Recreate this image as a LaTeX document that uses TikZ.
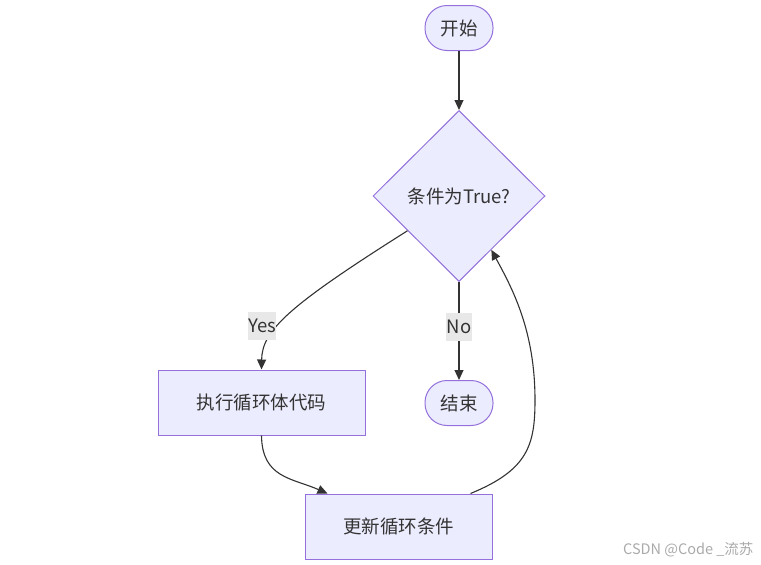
\documentclass[tikz,border=0pt]{standalone}
\usepackage{fontspec}
\setmainfont{Noto Sans CJK SC}
\usetikzlibrary{shapes.geometric,arrows.meta}
\definecolor{nodefill}{HTML}{ECECFF}
\definecolor{nodeline}{HTML}{9370DB}
\definecolor{edgeline}{HTML}{333333}
\definecolor{labelbg}{HTML}{E8E8E8}
\definecolor{txt}{HTML}{333333}
\definecolor{wmark}{HTML}{AAAAAA}
\tikzset{
  base/.style={draw=nodeline, fill=nodefill, line width=1pt, text=txt, font=\fontsize{18.5pt}{22pt}\selectfont, inner sep=0pt},
  stadium/.style={base, rounded corners=22pt, minimum width=68pt, minimum height=45pt},
  boxnode/.style={base, minimum height=65pt},
  decision/.style={base, diamond, minimum width=172pt, minimum height=171pt},
  edge/.style={draw=edgeline, line width=1.1pt, -{Triangle[length=10pt,width=9pt]}},
  elabel/.style={fill=labelbg, text=txt, font=\fontsize{18.5pt}{22pt}\selectfont, inner sep=0.5pt, minimum height=28pt}
}
\begin{document}
\begin{tikzpicture}[x=1pt,y=-1pt]
\useasboundingbox (0,0) rectangle (761,565);
\node[stadium] (start) at (459,28) {开始};
\node[decision] (cond) at (459,196) {条件为True?};
\node[boxnode, minimum width=207pt] (exec) at (261.5,402.5) {执行循环体代码};
\node[stadium] (end) at (459,403) {结束};
\node[boxnode, minimum width=187pt] (upd) at (398.5,526.5) {更新循环条件};

\draw[edge] (start) -- (cond.north);
\draw[edge] (cond.214) .. controls (290,305) and (262,330) .. (exec.north);
\node[elabel] (yes) at (262,326) {Yes};
\draw[edge] (cond.south) -- (end.north);
\node[elabel] (no) at (459,327) {No};
\draw[edge] (exec.south) .. controls (262,478) and (292,478) .. ([xshift=23pt]upd.north west);
\coordinate (bend) at (535,400);
\draw[edge] ([xshift=-22pt]upd.north east) .. controls (528,470) and (535,445) .. (bend) .. controls (535,330) and (512,288) .. (cond.301);

\node[text=wmark, font=\fontsize{14.5pt}{17pt}\selectfont, anchor=east] (wm) at (757,550) {CSDN @Code \_流苏};
\end{tikzpicture}
\end{document}
